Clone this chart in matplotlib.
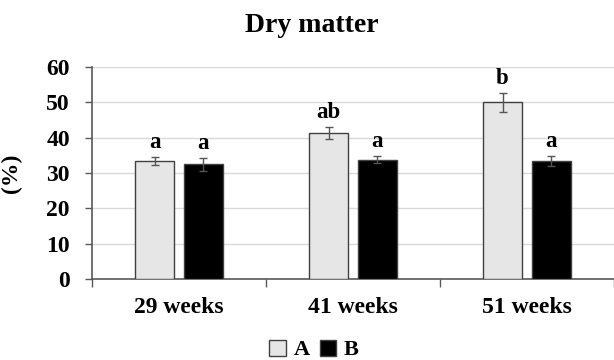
import matplotlib
matplotlib.use("Agg")
import matplotlib.pyplot as plt
from matplotlib.patches import Patch
import numpy as np

categories = ["29 weeks", "41 weeks", "51 weeks"]
series_names = ["A", "B"]
values_A = [33.5, 41.3, 50.0]
values_B = [32.5, 33.7, 33.4]
err_A = [1.1, 1.6, 2.7]
err_B = [1.8, 1.0, 1.5]
letters_A = ["a", "ab", "b"]
letters_B = ["a", "a", "a"]
yticks = [0, 10, 20, 30, 40, 50, 60]

plt.rcParams['font.family'] = ['Liberation Serif', 'DejaVu Serif']
plt.rcParams['font.weight'] = 'bold'

fig = plt.figure(figsize=(6.14, 3.6), dpi=100)
ax = fig.add_axes([92/614, 1-279/360, 1-92/614, (279-67)/360])

x = np.arange(len(categories))
w = 0.224
gap = 0.057
off = (w + gap) / 2
colA = "#e6e6e6"
colB = "#000000"
edge = "#404040"

ax.bar(x - off, values_A, w, color=colA, edgecolor=edge, linewidth=1.0, zorder=3)
ax.bar(x + off, values_B, w, color=colB, edgecolor=edge, linewidth=1.0, zorder=3)
ax.errorbar(x - off, values_A, yerr=err_A, fmt='none', ecolor='#555555', elinewidth=1, capsize=3, capthick=1, zorder=4)
ax.errorbar(x + off, values_B, yerr=err_B, fmt='none', ecolor='#555555', elinewidth=1, capsize=3, capthick=1, zorder=4)

for xi, v, e, t in zip(x - off, values_A, err_A, letters_A):
    ax.annotate(t, (xi, v + e), xytext=(0, 3), textcoords='offset points',
                ha='center', va='bottom', fontsize=16.5, fontweight='bold')
for xi, v, e, t in zip(x + off, values_B, err_B, letters_B):
    ax.annotate(t, (xi, v + e), xytext=(0, 3), textcoords='offset points',
                ha='center', va='bottom', fontsize=16.5, fontweight='bold')

ax.set_xlim(-0.5, len(categories) - 0.5)
ax.set_ylim(0, 60)
ax.set_yticks(yticks)
ax.set_yticklabels([str(t) for t in yticks], fontsize=17, fontweight='bold')
ax.tick_params(axis='y', which='major', length=5, pad=11, color='#595959', width=1)

ax.set_xticks(x)
ax.set_xticklabels(categories, fontsize=17, fontweight='bold')
ax.set_xticks(np.arange(-0.5, len(categories)), minor=True)
ax.tick_params(axis='x', which='major', length=0, pad=13)
ax.tick_params(axis='x', which='minor', length=6, color='#595959', width=1)

ax.grid(axis='y', color='#d9d9d9', linewidth=1, zorder=0)
ax.set_axisbelow(True)
for s in ['top', 'right']:
    ax.spines[s].set_visible(False)
for s in ['left', 'bottom']:
    ax.spines[s].set_color('#595959')
    ax.spines[s].set_linewidth(1.2)

ax.set_ylabel("(%)", fontsize=17, fontweight='bold')
ax.yaxis.set_label_coords(-(92 - 22) / 522, 0.5)

fig.text(312/614, 1-26/360, "Dry matter", ha='center', va='center', fontsize=20, fontweight='bold')

handles = [Patch(facecolor=colA, edgecolor=edge, linewidth=1.0, label=series_names[0]),
           Patch(facecolor=colB, edgecolor=edge, linewidth=1.0, label=series_names[1])]
fig.legend(handles=handles, loc='center', bbox_to_anchor=(314/614, 1-350/360), ncol=2,
           frameon=False, handlelength=0.75, handleheight=0.75,
           handletextpad=0.35, columnspacing=0.45, prop={'weight': 'bold', 'size': 16})

fig.savefig("out.png", dpi=100)
